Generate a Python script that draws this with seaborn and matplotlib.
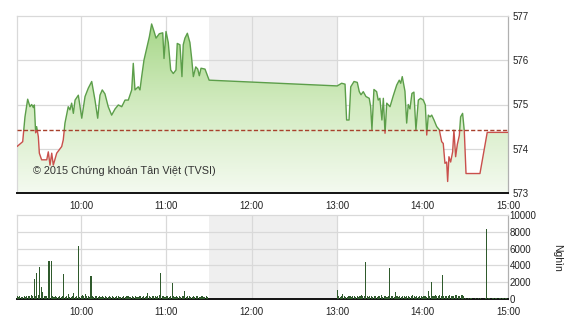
import numpy as np
import pandas as pd
import matplotlib
matplotlib.use("Agg")
import matplotlib.pyplot as plt
import seaborn as sns
from matplotlib.colors import LinearSegmentedColormap
from matplotlib.patches import Rectangle

# ---------------- data ----------------
price_times = ["09:15:00", "09:19:00", "09:20:36", "09:22:30", "09:24:06", "09:25:18", "09:26:30", "09:27:12",
               "09:28:06", "09:28:48", "09:30:00", "09:30:42", "09:32:18", "09:35:54", "09:37:00", "09:38:12",
               "09:39:24", "09:40:30", "09:42:54", "09:45:12", "09:46:24", "09:47:30", "09:48:42", "09:51:00",
               "09:52:12", "09:53:24", "09:54:36", "09:55:48", "09:58:06", "10:00:30", "10:02:48", "10:05:06",
               "10:07:30", "10:09:48", "10:11:42", "10:13:18", "10:14:54", "10:16:48", "10:19:06", "10:21:30",
               "10:23:54", "10:26:12", "10:28:36", "10:30:54", "10:33:12", "10:35:36", "10:36:42", "10:37:54",
               "10:40:12", "10:41:24", "10:42:36", "10:44:12", "10:46:06", "10:48:00", "10:49:36", "10:51:18",
               "10:52:42", "10:55:00", "10:57:24", "10:58:18", "10:59:42", "11:01:18", "11:03:00", "11:04:48",
               "11:06:42", "11:07:36", "11:09:30", "11:10:54", "11:11:48", "11:13:00", "11:14:42", "11:16:30",
               "11:17:42", "11:18:54", "11:20:36", "11:22:00", "11:23:06", "11:24:18", "11:27:06", "11:30:00",
               "13:00:00", "13:03:06", "13:05:30", "13:06:36", "13:08:18", "13:09:30", "13:11:48", "13:14:06",
               "13:15:30", "13:16:42", "13:18:18", "13:20:12", "13:22:30", "13:23:30", "13:24:24", "13:25:48",
               "13:27:42", "13:28:48", "13:30:00", "13:31:24", "13:32:24", "13:33:36", "13:34:48", "13:37:06",
               "13:39:24", "13:41:48", "13:43:36", "13:44:36", "13:45:42", "13:47:36", "13:48:48", "13:49:54",
               "13:51:06", "13:52:30", "13:53:54", "13:55:18", "13:57:00", "13:58:36", "14:00:30", "14:01:54",
               "14:02:54", "14:04:00", "14:05:12", "14:06:24", "14:08:00", "14:09:54", "14:11:42", "14:13:24",
               "14:14:30", "14:15:42", "14:16:54", "14:17:36", "14:18:30", "14:19:42", "14:21:06", "14:22:00",
               "14:23:12", "14:24:24", "14:25:48", "14:26:42", "14:28:06", "14:29:18", "14:30:30", "14:40:18",
               "14:45:24", "15:00:00"]
price_values = [574.05, 574.16, 574.72, 575.12, 574.95, 575.00, 574.93, 574.99,
                574.36, 574.50, 574.27, 573.90, 573.75, 573.75, 573.93, 573.63,
                573.90, 573.63, 573.90, 574.00, 574.05, 574.20, 574.58, 574.95,
                574.88, 575.03, 574.80, 575.10, 575.21, 574.69, 575.18, 575.37,
                575.52, 575.10, 574.69, 575.21, 575.33, 575.24, 574.95, 574.76,
                574.90, 574.99, 574.95, 575.10, 575.10, 575.33, 575.93, 575.33,
                575.40, 575.33, 575.63, 576.00, 576.27, 576.53, 576.82, 576.65,
                576.50, 576.60, 576.62, 576.04, 576.65, 576.40, 575.78, 575.70,
                575.78, 576.38, 576.35, 575.63, 576.35, 576.50, 576.61, 576.40,
                576.05, 575.63, 575.85, 575.80, 575.65, 575.82, 575.80, 575.55,
                575.42, 575.48, 575.46, 574.65, 574.65, 575.40, 575.52, 575.50,
                575.29, 575.22, 575.29, 575.18, 575.14, 574.95, 574.43, 575.34,
                575.29, 575.10, 575.14, 574.65, 575.14, 574.35, 575.03, 574.95,
                575.20, 575.44, 575.55, 575.48, 575.63, 575.30, 574.58, 575.00,
                574.90, 575.25, 575.28, 574.42, 575.10, 575.14, 575.10, 574.99,
                574.31, 574.76, 574.72, 574.76, 574.65, 574.50, 574.43, 574.16,
                574.12, 573.67, 573.70, 573.26, 573.82, 573.70, 573.93, 574.42,
                573.82, 574.10, 574.30, 574.72, 574.80, 574.40, 573.44, 573.44,
                574.37, 574.37]
reference_price = 574.43

# volume per minute (thousand shares), morning session 09:15 .. 11:29
vol_morning = [300, 250, 350, 200, 280, 320, 260, 400, 300, 350,
               450, 300, 2340, 400, 3130, 500, 3840, 1390, 870, 350,
               300, 400, 4520, 4550, 4500, 350, 250, 300, 200, 280,
               350, 250, 300, 2970, 250, 300, 560, 250, 200, 300,
               750, 250, 300, 6340, 250, 300, 450, 400, 595, 350,
               300, 250, 2780, 300, 250, 400, 300, 200, 350, 280,
               300, 250, 320, 200, 280, 350, 250, 300, 200, 260,
               300, 350, 250, 200, 280, 300, 250, 350, 300, 200,
               260, 300, 250, 320, 280, 200, 300, 350, 250, 300,
               280, 350, 750, 300, 250, 400, 300, 350, 250, 300,
               450, 3130, 350, 300, 250, 300, 400, 280, 350, 1940,
               300, 250, 350, 280, 300, 250, 400, 300, 990, 250,
               300, 350, 280, 250, 300, 200, 350, 300, 250, 280,
               300, 250, 200, 300, 250]
# afternoon session 13:00 .. 14:59
vol_afternoon = [1070, 300, 250, 350, 600, 300, 250, 280, 350, 300,
                 250, 300, 400, 280, 350, 250, 300, 450, 300, 350,
                 4440, 300, 250, 350, 300, 280, 400, 300, 250, 350,
                 300, 450, 280, 300, 350, 250, 400, 3730, 300, 350,
                 250, 830, 300, 280, 350, 250, 300, 400, 280, 300,
                 350, 250, 300, 500, 300, 280, 350, 250, 300, 400,
                 280, 350, 300, 250, 990, 350, 2020, 300, 400, 500,
                 350, 300, 450, 400, 2900, 350, 300, 400, 350, 450,
                 300, 400, 350, 450, 500, 400, 350, 450, 500, 300,
                 60, 50, 70, 40, 60, 50, 40, 60, 50, 70,
                 40, 60, 50, 40, 60, 8290, 60, 80, 50, 70,
                 90, 60, 80, 50, 70, 100, 60, 80, 90, 70]

hour_labels = ["10:00", "11:00", "12:00", "13:00", "14:00", "15:00"]
price_ticks = [573, 574, 575, 576, 577]
vol_ticks = [0, 2000, 4000, 6000, 8000, 10000]
watermark = "© 2015 Chứng khoán Tân Việt (TVSI)"
vol_label = "Nghìn"


def to_min(s):
    p = [float(v) for v in s.split(":")]
    return p[0] * 60 + p[1] + (p[2] / 60 if len(p) > 2 else 0)


df = pd.DataFrame({"t": [to_min(s) for s in price_times], "price": price_values})
vm_t = to_min("09:15") + np.arange(len(vol_morning))
va_t = to_min("13:00") + np.arange(len(vol_afternoon))
vol_df = pd.DataFrame({"t": np.concatenate([vm_t, va_t]),
                       "vol": vol_morning + vol_afternoon})

# ---------------- style ----------------
sns.set_theme(style="white")
plt.rcParams["font.family"] = ["Liberation Sans", "DejaVu Sans"]

X0, X1 = to_min("09:15"), to_min("15:00")
tick_pos = [to_min(h) for h in hour_labels]
GRID = "#d9d9d9"
SHADE = "#efefef"
TXT = "#222222"

fig = plt.figure(figsize=(5.7, 3.2), dpi=100)
ax = fig.add_axes([17 / 570, 1 - 193 / 320, (508 - 17) / 570, (193 - 16) / 320])
axv = fig.add_axes([17 / 570, 1 - 299 / 320, (508 - 17) / 570, (299 - 215) / 320])

# ----- price panel -----
cmap = LinearSegmentedColormap.from_list("g", ["#f4faf0", "#d2ebc0", "#a3d584"])
grad = np.linspace(0, 1, 256).reshape(-1, 1)
im = ax.imshow(grad, extent=[X0, X1, 573, 577], origin="lower", aspect="auto",
               cmap=cmap, zorder=1)
poly = ax.fill_between(df["t"], df["price"], 573, color="none", lw=0)
im.set_clip_path(poly.get_paths()[0], transform=ax.transData)

sns.lineplot(data=df, x="t", y="price", ax=ax, color="#5c9e4a", lw=1.0, zorder=3)
sns.lineplot(data=df, x="t", y="price", ax=ax, color="#c9504c", lw=1.0, zorder=4)
lines = ax.get_lines()
above = Rectangle((X0, reference_price), X1 - X0, 10, transform=ax.transData)
below = Rectangle((X0, 560), X1 - X0, reference_price - 560, transform=ax.transData)
lines[-2].set_clip_path(above)
lines[-1].set_clip_path(below)

ax.axhline(reference_price, color="#a8402c", lw=1.0, ls=(0, (3, 1.6)), zorder=5)
for v in price_ticks[1:-1]:
    ax.axhline(v, color=GRID, lw=0.9, zorder=0.5)
ax.set_ylim(573, 577)
ax.set_yticks(price_ticks)
ax.text(to_min("09:26"), 573.5, watermark, fontsize=7.8, color="#333333",
        va="center", ha="left", zorder=6)

# ----- volume panel -----
for v in vol_ticks[1:-1]:
    axv.axhline(v, color=GRID, lw=0.9, zorder=0.5)
axv.bar(vol_df["t"], vol_df["vol"], width=0.75, color="#2f5a2c", lw=0, zorder=3,
        align="center")
axv.set_ylim(0, 10000)
axv.set_yticks(vol_ticks)

for a in (ax, axv):
    a.axvspan(to_min("11:30"), to_min("13:00"), color=SHADE, zorder=0, lw=0)
    for tp in tick_pos[:-1]:
        a.axvline(tp, color=GRID, lw=0.9, zorder=0.5)
    for sp in ("left", "top"):
        a.spines[sp].set_color(GRID)
        a.spines[sp].set_linewidth(0.9)
    a.spines["right"].set_color("#b0b0b0")
    a.spines["right"].set_linewidth(0.9)
    a.spines["bottom"].set_color("#111111")
    a.spines["bottom"].set_linewidth(1.4)
    a.yaxis.tick_right()
    a.set_xticks(tick_pos)
    a.set_xticklabels(hour_labels)
    a.tick_params(axis="both", length=0, labelsize=7, colors=TXT, pad=3)
    a.set_xlim(X0, X1)
    a.set_xlabel("")
    a.set_ylabel("")

ax.tick_params(axis="x", pad=6)
axv.tick_params(axis="x", pad=6)
axv.tick_params(axis="y", pad=1)
fig.text(557 / 570, 1 - 258 / 320, vol_label, rotation=270, fontsize=7.5, color=TXT,
         ha="center", va="center")

fig.savefig("out.png", dpi=100, facecolor="white")
